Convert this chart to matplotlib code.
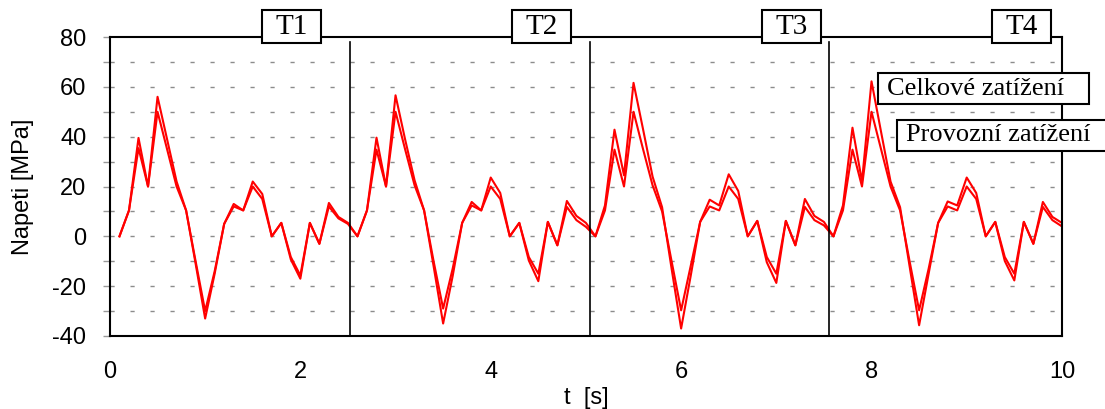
import numpy as np
import matplotlib
matplotlib.use('Agg')
import matplotlib.pyplot as plt
from matplotlib.patches import Rectangle

plt.rcParams['axes.unicode_minus'] = False

# time axis: 4 segments x 25 samples, dt = 0.1 s
t = np.round(np.arange(1, 101) * 0.1, 1)

# Celkove zatizeni (total load) [MPa]
celk_T1 = [0, 10.4, 39.5, 20, 56, 39, 22, 10.4, -11, -33, -15, 5, 13, 10.4, 22, 17, 0, 5.4, -9.3, -17, 5.4, -3, 13.4, 7.8, 5.4]
celk_T2 = [0, 10.4, 39.6, 20, 56.6, 39, 22.5, 10.4, -12, -35, -16, 5.4, 13.8, 10.4, 23.6, 17.4, 0, 5.4, -9.7, -18, 5.8, -3.6, 14.2, 8.2, 5.4]
celk_T3 = [0, 12.4, 42.8, 24.5, 61.6, 43, 24, 11.7, -13, -37, -16, 5.8, 14.7, 12.4, 24.9, 18.2, 0, 6.2, -10.4, -18.7, 6.2, -3.6, 15, 8.2, 5.8]
celk_T4 = [0, 12.4, 43.6, 22, 62.2, 42, 22, 11.7, -12, -35.7, -15, 5.4, 14, 12.4, 23.6, 17.4, 0, 5.8, -9.9, -17.7, 5.8, -3, 13.8, 7.8, 5.4]

# Provozni zatizeni (operating load) [MPa]
prov_T1 = [0, 10.4, 35.4, 20, 50, 35, 20, 10.4, -10, -30, -14, 5, 12, 10.4, 20, 15, 0, 5.4, -8.3, -15.7, 5.4, -3, 12, 7.2, 5]
prov_T2 = [0, 10.4, 34.8, 20, 50, 35, 20.5, 10.4, -10, -29, -13, 5.4, 12.4, 10.4, 20, 15, 0, 5.4, -8.3, -15, 5.8, -3.6, 11.8, 6.5, 3.8]
prov_T3 = [0, 10.4, 34.8, 20, 50, 35, 20.5, 10, -10, -29.7, -12, 5.8, 12, 10.4, 20, 15, 0, 6.2, -8.3, -15, 6.2, -3.6, 11.8, 6.5, 4.4]
prov_T4 = [0, 10.4, 34.8, 20, 50, 35, 20, 10.4, -10, -29.7, -13, 5.4, 12, 10.4, 20, 15, 0, 5.8, -8.3, -15, 5.8, -3, 11.8, 6.5, 4]

celk = celk_T1 + celk_T2 + celk_T3 + celk_T4
prov = prov_T1 + prov_T2 + prov_T3 + prov_T4

seg_labels = ['T1', 'T2', 'T3', 'T4']
seg_label_x = [1.91, 4.53, 7.16, 9.58]
seg_bounds = [2.524, 5.04, 7.556]
legend_labels = ['Celkové zatížení', 'Provozní zatížení']

sans = 'Liberation Sans'
serif = 'Liberation Serif'

fig = plt.figure(figsize=(11.05, 4.09), dpi=100)
ax = fig.add_axes([0.0995, 0.1785, 0.8615, 0.731])

# dashed horizontal grid
for g in range(-30, 80, 10):
    ax.plot([0, 10], [g, g], color='#8c8c8c', lw=1.0, dashes=(3, 11.4), zorder=1)

ax.plot(t, celk, color='#ff0000', lw=1.5, zorder=3)
ax.plot(t, prov, color='#ff0000', lw=1.5, zorder=3)

for xb in seg_bounds:
    ax.plot([xb, xb], [78, -40], color='black', lw=1.2, zorder=4, clip_on=False)

ax.set_xlim(0, 10)
ax.set_ylim(-40, 80)
ax.set_xticks(np.arange(0, 11, 2))
ax.set_yticks(np.arange(-40, 81, 20))
ax.set_yticks(np.arange(-30, 80, 20), minor=True)
ax.tick_params(axis='x', length=0, pad=18, labelsize=17)
ax.tick_params(axis='y', which='both', length=5, color='#999999', width=1, pad=12, labelsize=17)
for lab in ax.get_xticklabels() + ax.get_yticklabels():
    lab.set_fontfamily(sans)
for sp in ax.spines.values():
    sp.set_linewidth(1.5)
    sp.set_zorder(4)

ax.set_xlabel('t  [s]', fontsize=17, family=sans, labelpad=3)
ax.set_ylabel('Napeti [MPa]', fontsize=17, family=sans, labelpad=13)

# segment label boxes on top border
for lab, xc in zip(seg_labels, seg_label_x):
    ax.add_patch(Rectangle((xc - 0.31, 77.6), 0.62, 13.2, facecolor='white',
                           edgecolor='black', lw=1.5, zorder=6, clip_on=False))
    ax.text(xc, 84.0, lab, ha='center', va='center', fontsize=21,
            family=serif, zorder=7, clip_on=False)

# legend-like text boxes
ax.add_patch(Rectangle((8.064, 53.1), 2.22, 12.4, facecolor='white',
                       edgecolor='black', lw=1.5, zorder=6, clip_on=False))
ax.text(8.16, 59.3, legend_labels[0], ha='left', va='center', fontsize=19,
        family=serif, zorder=7, clip_on=False)
ax.add_patch(Rectangle((8.263, 34.3), 2.6, 12.4, facecolor='white',
                       edgecolor='black', lw=1.5, zorder=6, clip_on=False))
ax.text(8.36, 40.5, legend_labels[1], ha='left', va='center', fontsize=19,
        family=serif, zorder=7, clip_on=False)

fig.savefig('out.png', dpi=100)
